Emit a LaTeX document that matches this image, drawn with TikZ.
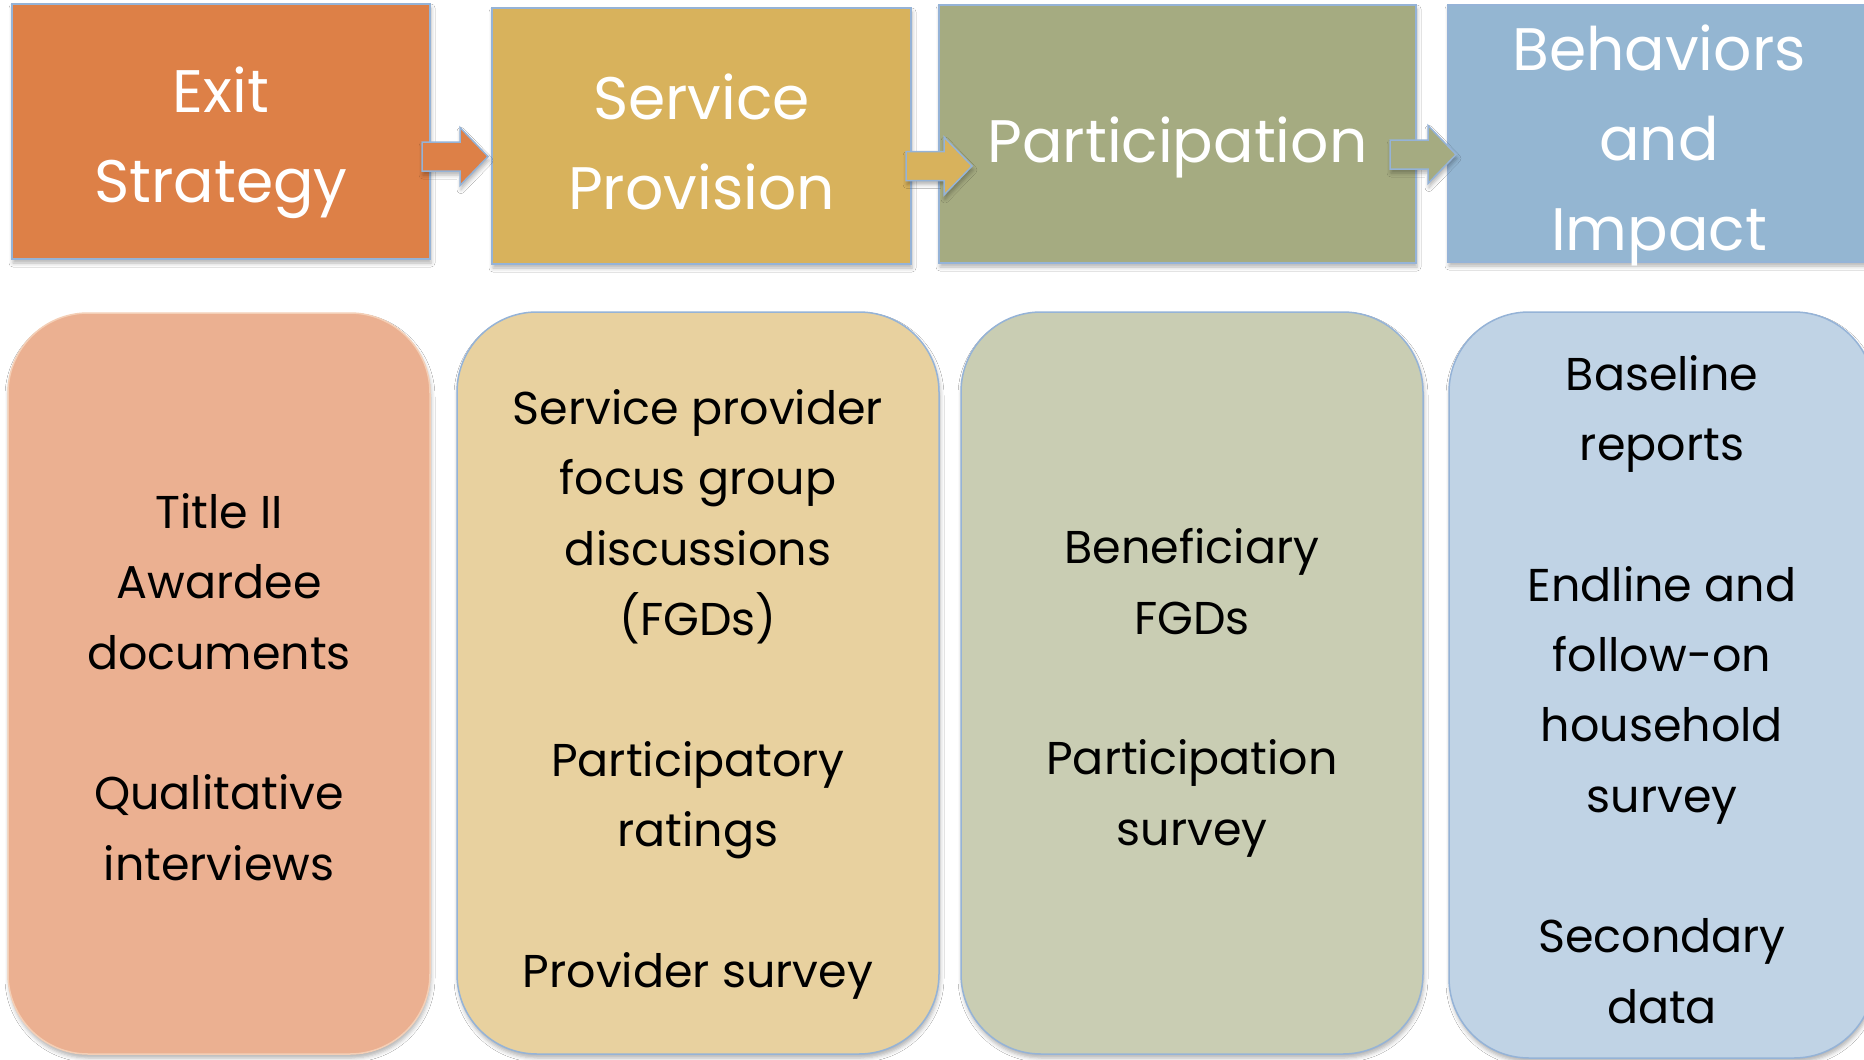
\documentclass[tikz,border=0pt]{standalone}
\usepackage{fontspec}
\setmainfont{Poppins}
\usetikzlibrary{shadows.blur}

\definecolor{edgeblue}{HTML}{95B3D7}
\definecolor{exitC}{HTML}{DD8047}
\definecolor{servC}{HTML}{D8B25C}
\definecolor{partC}{HTML}{A5AB81}
\definecolor{behC}{HTML}{94B6D2}
\definecolor{exitL}{HTML}{EBB091}
\definecolor{servL}{HTML}{E8D19F}
\definecolor{partL}{HTML}{C9CDB3}
\definecolor{behL}{HTML}{C0D3E5}
\definecolor{peachedge}{HTML}{F4CFB6}

\begin{document}
\begin{tikzpicture}[x=1pt,y=-1pt,
  softshadow/.style={blur shadow={shadow xshift=1pt, shadow yshift=-4pt,
      shadow blur radius=4pt, shadow opacity=30}},
  stagebox/.style={rectangle, draw=edgeblue, line width=1.5pt, inner sep=0pt, softshadow},
  sourcebox/.style={rectangle, rounded corners=80pt, draw=edgeblue, line width=1.5pt,
      inner sep=0pt, softshadow},
  % base anchor of a multi-line text sits on its last line
  stagetext/.style={anchor=base, align=center, text=white, inner sep=0pt,
      font=\fontsize{60}{90}\selectfont},
  sourcetext/.style={anchor=base, align=center, text=black, inner sep=0pt,
      font=\fontsize{46}{70.3}\selectfont},
  blockarrow/.pic={
    \path[fill=#1, draw=edgeblue, line width=1.5pt, softshadow]
      (0,-14.5) -- (38,-14.5) -- (38,-29) -- (66,0) -- (38,29) -- (38,14.5)
      -- (0,14.5) -- cycle;}
]
\useasboundingbox (0,0) rectangle (1864,1060);
\fill[white] (0,0) rectangle (1864,1060);

% stage header boxes
\node[stagebox, fill=exitC, minimum width=418pt, minimum height=255pt] (exit) at (221,131.5) {};
\node[stagebox, fill=servC, minimum width=419pt, minimum height=256pt] (serv) at (701.5,136) {};
\node[stagebox, fill=partC, minimum width=477pt, minimum height=258pt] (part) at (1177.5,134) {};
\node[stagebox, fill=behC, minimum width=422pt, minimum height=257pt] (beh) at (1659,133.5) {};

% block arrows between the stages
\coordinate (a1) at (422,156.5);
\coordinate (a2) at (906,166);
\coordinate (a3) at (1390,154.5);
\pic at (a1) {blockarrow=exitC};
\pic at (a2) {blockarrow=servC};
\pic at (a3) {blockarrow=partC};

% stage titles
\node[stagetext] (exitT) at (221,202) {Exit\\Strategy};
\node[stagetext] (servT) at (701.5,209) {Service\\Provision};
\node[stagetext] (partT) at (1177.5,162) {Participation};
\node[stagetext] (behT) at (1659,250) {Behaviors\\and\\Impact};

% data source boxes
\node[sourcebox, draw=peachedge, fill=exitL, minimum width=422pt, minimum height=741pt] (src1) at (219,683.5) {};
\node[sourcebox, fill=servL, minimum width=482pt, minimum height=742pt] (src2) at (698,683) {};
\node[sourcebox, fill=partL, minimum width=462pt, minimum height=742pt] (src3) at (1192,683) {};
\node[sourcebox, fill=behL, minimum width=425pt, minimum height=746pt] (src4) at (1661.5,685) {};

% data source lists
\node[sourcetext] (src1T) at (219,880) {Title II\\Awardee\\documents\\[70.3pt]Qualitative\\interviews};
\node[sourcetext] (src2T) at (698,987) {Service provider\\focus group\\discussions\\(FGDs)\\[70.3pt]Participatory\\ratings\\[70.3pt]Provider survey};
\node[sourcetext] (src3T) at (1192,845) {Beneficiary\\FGDs\\[70.3pt]Participation\\survey};
\node[sourcetext] (src4T) at (1662,1023) {Baseline\\reports\\[70.3pt]Endline and\\follow-on\\household\\survey\\[70.3pt]Secondary\\data};
\end{tikzpicture}
\end{document}
